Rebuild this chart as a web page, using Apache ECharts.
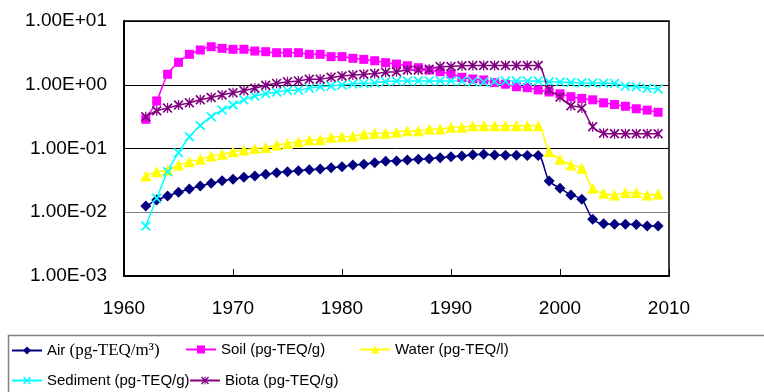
<!DOCTYPE html>
<html>
<head>
<meta charset="utf-8">
<script src="https://cdn.jsdelivr.net/npm/echarts@6/dist/echarts.min.js"></script>
<style>
html,body{margin:0;padding:0;background:#fff;}
#chart{width:764px;height:392px;}
</style>
</head>
<body>
<div id="chart"></div>
<script>
const years = [1962,1963,1964,1965,1966,1967,1968,1969,1970,1971,1972,1973,1974,1975,1976,1977,1978,1979,1980,1981,1982,1983,1984,1985,1986,1987,1988,1989,1990,1991,1992,1993,1994,1995,1996,1997,1998,1999,2000,2001,2002,2003,2004,2005,2006,2007,2008,2009];

const air = [0.0125,0.0155,0.0180,0.0206,0.0232,0.0258,0.0284,0.0313,0.0329,0.0353,0.0371,0.0394,0.0417,0.0432,0.0449,0.0465,0.0475,0.0500,0.0519,0.0551,0.0565,0.0599,0.0630,0.0637,0.0660,0.0677,0.0692,0.0718,0.0744,0.0762,0.0800,0.0810,0.0790,0.0785,0.0785,0.0780,0.0780,0.0309,0.0238,0.0187,0.0160,0.0078,0.0066,0.0065,0.0065,0.0064,0.0061,0.0061];

const soil = [0.287,0.556,1.46,2.25,3.0,3.51,3.95,3.72,3.6,3.6,3.38,3.3,3.18,3.18,3.18,3.0,3.0,2.76,2.76,2.6,2.5,2.38,2.22,2.11,1.99,1.85,1.70,1.60,1.47,1.31,1.23,1.19,1.08,1.02,0.93,0.90,0.83,0.77,0.72,0.65,0.61,0.58,0.52,0.49,0.46,0.42,0.40,0.37];

const water = [0.037,0.0433,0.046,0.055,0.062,0.068,0.076,0.081,0.089,0.095,0.100,0.104,0.113,0.120,0.128,0.136,0.138,0.150,0.153,0.156,0.169,0.173,0.173,0.180,0.190,0.190,0.202,0.202,0.215,0.215,0.228,0.228,0.228,0.228,0.228,0.228,0.228,0.089,0.068,0.055,0.049,0.0238,0.0198,0.0187,0.0205,0.0205,0.0187,0.0193];

const sediment = [0.0061,0.0166,0.0433,0.086,0.153,0.23,0.315,0.40,0.48,0.58,0.667,0.72,0.77,0.81,0.83,0.88,0.93,0.955,0.99,1.03,1.05,1.07,1.11,1.14,1.15,1.15,1.15,1.15,1.15,1.14,1.12,1.10,1.12,1.14,1.14,1.14,1.14,1.11,1.10,1.08,1.07,1.07,1.06,1.05,0.95,0.93,0.88,0.86];

const biota = [0.315,0.39,0.43,0.48,0.52,0.58,0.63,0.69,0.75,0.81,0.88,0.98,1.05,1.11,1.15,1.22,1.22,1.31,1.37,1.42,1.46,1.50,1.57,1.60,1.70,1.70,1.75,1.93,1.93,1.99,2.0,2.0,2.0,2.0,2.0,2.0,2.0,0.84,0.64,0.47,0.43,0.22,0.174,0.17,0.17,0.17,0.17,0.17];

const xTicks = [1960,1970,1980,1990,2000,2010];
const yTickLabels = {'-3':'1.00E-03','-2':'1.00E-02','-1':'1.00E-01','0':'1.00E+00','1':'1.00E+01'};

const seriesNames = ['Air (pg-TEQ/m³)','Soil (pg-TEQ/g)','Water (pg-TEQ/l)','Sediment (pg-TEQ/g)','Biota (pg-TEQ/g)'];

const xPath = 'path://M0,1.2L1.2,0L5,3.8L8.8,0L10,1.2L6.2,5L10,8.8L8.8,10L5,6.2L1.2,10L0,8.8L3.8,5Z';
const starPath = 'path://M0,1.2L1.2,0L5,3.8L8.8,0L10,1.2L6.2,5L10,8.8L8.8,10L5,6.2L1.2,10L0,8.8L3.8,5Z M4.4,0L5.6,0L5.6,10L4.4,10Z';

function pairs(vals){ return years.map((y,i)=>[y, vals[i]]); }

const chart = echarts.init(document.getElementById('chart'), null, {renderer:'canvas'});

function mkSeries(name, vals, color, symbol, size){
  return {
    name: name, type:'line', data: pairs(vals),
    smooth: 0.3,
    symbol: symbol, symbolSize: size,
    lineStyle:{color:color, width:1.5},
    itemStyle:{color:color, borderWidth:0},
    emphasis:{disabled:true},
    animation:false
  };
}

const sansF = '"Liberation Sans",Arial,sans-serif';
const legendFont = {fontFamily:sansF, fontSize:15, color:'#000',
  rich:{ s:{fontFamily:'"Liberation Serif","Times New Roman",serif', fontSize:17, color:'#000'},
         n:{fontFamily:sansF, fontSize:15, color:'#000'} } };

function mkLegend(name, left, top){
  return {
    data:[name], left:left, top:top, padding:0, itemWidth:30, itemHeight:10, itemGap:5,
    textStyle: legendFont, selectedMode:false,
    formatter: function(n){
      if (n === seriesNames[0]) return '{n|Air }{s|(pg-TEQ/m³)}';
      return n;
    }
  };
}

const option = {
  backgroundColor:'#fff',
  animation:false,
  grid:{left:124, right:95, top:21, bottom:116, show:true, borderColor:'#000', borderWidth:1.5, backgroundColor:'transparent'},
  xAxis:{
    type:'value', min:xTicks[0], max:xTicks[xTicks.length-1], interval:10,
    axisLine:{show:true, onZero:false, lineStyle:{color:'#000', width:2}},
    axisTick:{show:true, inside:true, length:7, lineStyle:{color:'#000', width:1}},
    splitLine:{show:false},
    axisLabel:{fontFamily:sansF, fontSize:19, color:'#000', margin:23,
      formatter: v => String(v)}
  },
  yAxis:{
    type:'log', logBase:10, min:0.001, max:10,
    axisLine:{show:true, lineStyle:{color:'#000', width:2}},
    axisTick:{show:false},
    splitLine:{show:true, lineStyle:{color:['#000','#808080','#000','#000','#000'], width:1}},
    axisLabel:{fontFamily:sansF, fontSize:19, color:'#000', margin:17,
      formatter: v => yTickLabels[String(Math.round(Math.log10(v)))] || ''}
  },
  legend:[
    mkLegend(seriesNames[0], 11, 342),
    mkLegend(seriesNames[1], 185, 342),
    mkLegend(seriesNames[2], 359, 342),
    mkLegend(seriesNames[3], 11, 373),
    mkLegend(seriesNames[4], 189, 373)
  ],
  graphic:[{type:'rect', left:6, top:333, shape:{width:800, height:80}, style:{fill:'none', stroke:'#808080', lineWidth:1.5}, silent:true, z:-1}],
  series:[
    mkSeries(seriesNames[0], air, '#000080', 'diamond', 11),
    mkSeries(seriesNames[1], soil, '#FF00FF', 'rect', 9),
    mkSeries(seriesNames[2], water, '#FFFF00', 'triangle', 11),
    mkSeries(seriesNames[3], sediment, '#00FFFF', xPath, 10),
    mkSeries(seriesNames[4], biota, '#800080', starPath, 10)
  ]
};
chart.setOption(option);
</script>
</body>
</html>
